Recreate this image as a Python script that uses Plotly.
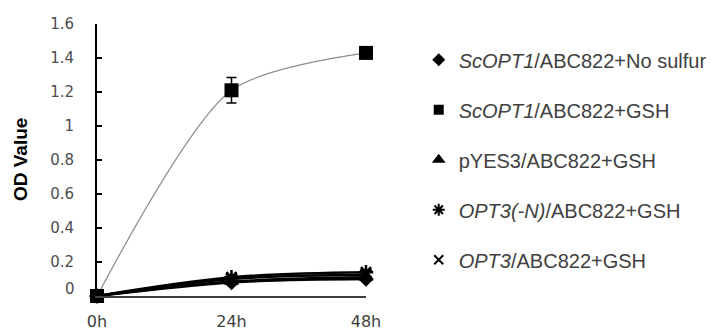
import plotly.graph_objects as go

# ---------------- data ----------------
hours = [0, 24, 48]
hour_labels = ["0h", "24h", "48h"]
y_tick_values = [0, 0.2, 0.4, 0.6, 0.8, 1.0, 1.2, 1.4, 1.6]
y_tick_labels = ["", "0.2", "0.4", "0.6", "0.8", "1", "1.2", "1.4", "1.6"]

series_names = [
    "<i>ScOPT1</i>/ABC822+No sulfur",
    "<i>ScOPT1</i>/ABC822+GSH",
    "pYES3/ABC822+GSH",
    "<i>OPT3(-N)</i>/ABC822+GSH",
    "<i>OPT3</i>/ABC822+GSH",
]
scopt1_no_sulfur = [0.0, 0.08, 0.10]
scopt1_gsh = [0.0, 1.21, 1.43]
scopt1_gsh_err = [0.005, 0.075, 0.015]
pyes3_gsh = [0.0, 0.085, 0.11]
opt3n_gsh = [0.0, 0.11, 0.14]
opt3_gsh = [0.0, 0.10, 0.125]

series_values = [scopt1_no_sulfur, scopt1_gsh, pyes3_gsh, opt3n_gsh, opt3_gsh]
series_errors = [None, scopt1_gsh_err, None, None, None]

# ---------------- styles ----------------
symbols = ["diamond", "square", "triangle-up", "asterisk-open", "x-thin-open"]
marker_sizes = [12, 14, 13, 12, 11]
legend_sizes = [10, 10, 12, 10, 9]
line_colors = ["#000000", "#8a8a8a", "#000000", "#000000", "#000000"]
line_widths = [2.5, 1.2, 2.5, 2.5, 2.5]
smoothings = [1.0, 0.75, 1.0, 1.0, 1.0]

fig = go.Figure()

# lines first (smoothed, like Excel)
for vals, lc, lw, sm in zip(series_values, line_colors, line_widths, smoothings):
    fig.add_trace(go.Scatter(
        x=hours, y=vals, mode="lines",
        line=dict(color=lc, width=lw, shape="spline", smoothing=sm),
        showlegend=False, hoverinfo="skip", cliponaxis=False,
    ))

# markers with error bars
for vals, err, sym, ms in zip(series_values, series_errors, symbols, marker_sizes):
    open_sym = sym.endswith("-open")
    fig.add_trace(go.Scatter(
        x=hours, y=vals, mode="markers",
        marker=dict(symbol=sym, size=ms, color="#000000",
                    line=dict(color="#000000", width=2.5 if open_sym else 0)),
        error_y=dict(type="data", array=err, visible=err is not None,
                     color="#000000", thickness=1.5, width=5),
        showlegend=False, cliponaxis=False,
    ))

# legend entries (marker only)
for i, (name, sym, ls) in enumerate(zip(series_names, symbols, legend_sizes)):
    open_sym = sym.endswith("-open")
    fig.add_trace(go.Scatter(
        x=[None], y=[None], mode="markers", name=name,
        legendgroup=f"g{i}",
        marker=dict(symbol=sym, size=ls, color="#000000",
                    line=dict(color="#000000", width=2 if open_sym else 0)),
    ))

fig.update_layout(
    width=711, height=330,
    margin=dict(l=97, r=345, t=24, b=34, autoexpand=False),
    paper_bgcolor="white", plot_bgcolor="white",
    font=dict(family="DejaVu Sans", color="#595959"),
    legend=dict(
        x=1.196, y=0.94, xanchor="left", yanchor="top",
        font=dict(family="Liberation Sans", size=20, color="#404040"),
        traceorder="grouped", tracegroupgap=21,
        bgcolor="rgba(0,0,0,0)",
    ),
    xaxis=dict(
        range=[0, 48], tickmode="array", tickvals=hours, ticktext=hour_labels,
        showgrid=False, zeroline=False, showline=True, automargin=False,
        linecolor="#404040", linewidth=2, ticks="",
        tickfont=dict(family="DejaVu Sans", size=16, color="#404040"),
        ticklabelstandoff=10,
    ),
    yaxis=dict(
        range=[0, 1.6], tickmode="array", tickvals=y_tick_values,
        ticktext=y_tick_labels,
        showgrid=False, zeroline=False, showline=True, automargin=False,
        linecolor="#000000", linewidth=2,
        ticks="inside", ticklen=5, tickwidth=2, tickcolor="#000000",
        tickfont=dict(family="DejaVu Sans", size=15, color="#4d4d4d"),
        ticklabelstandoff=18,
    ),
    annotations=[
        dict(
            text="<b>OD Value</b>", textangle=-90,
            xref="paper", yref="paper", x=-0.286, y=0.5,
            xanchor="center", yanchor="middle", showarrow=False,
            font=dict(family="Liberation Sans", size=19, color="#000000"),
        ),
        dict(
            text="0", xref="paper", yref="y", x=-0.074, y=0,
            xanchor="right", yanchor="middle", yshift=7, showarrow=False,
            font=dict(family="DejaVu Sans", size=15, color="#4d4d4d"),
        ),
    ],
)

fig.write_html("out.html")
